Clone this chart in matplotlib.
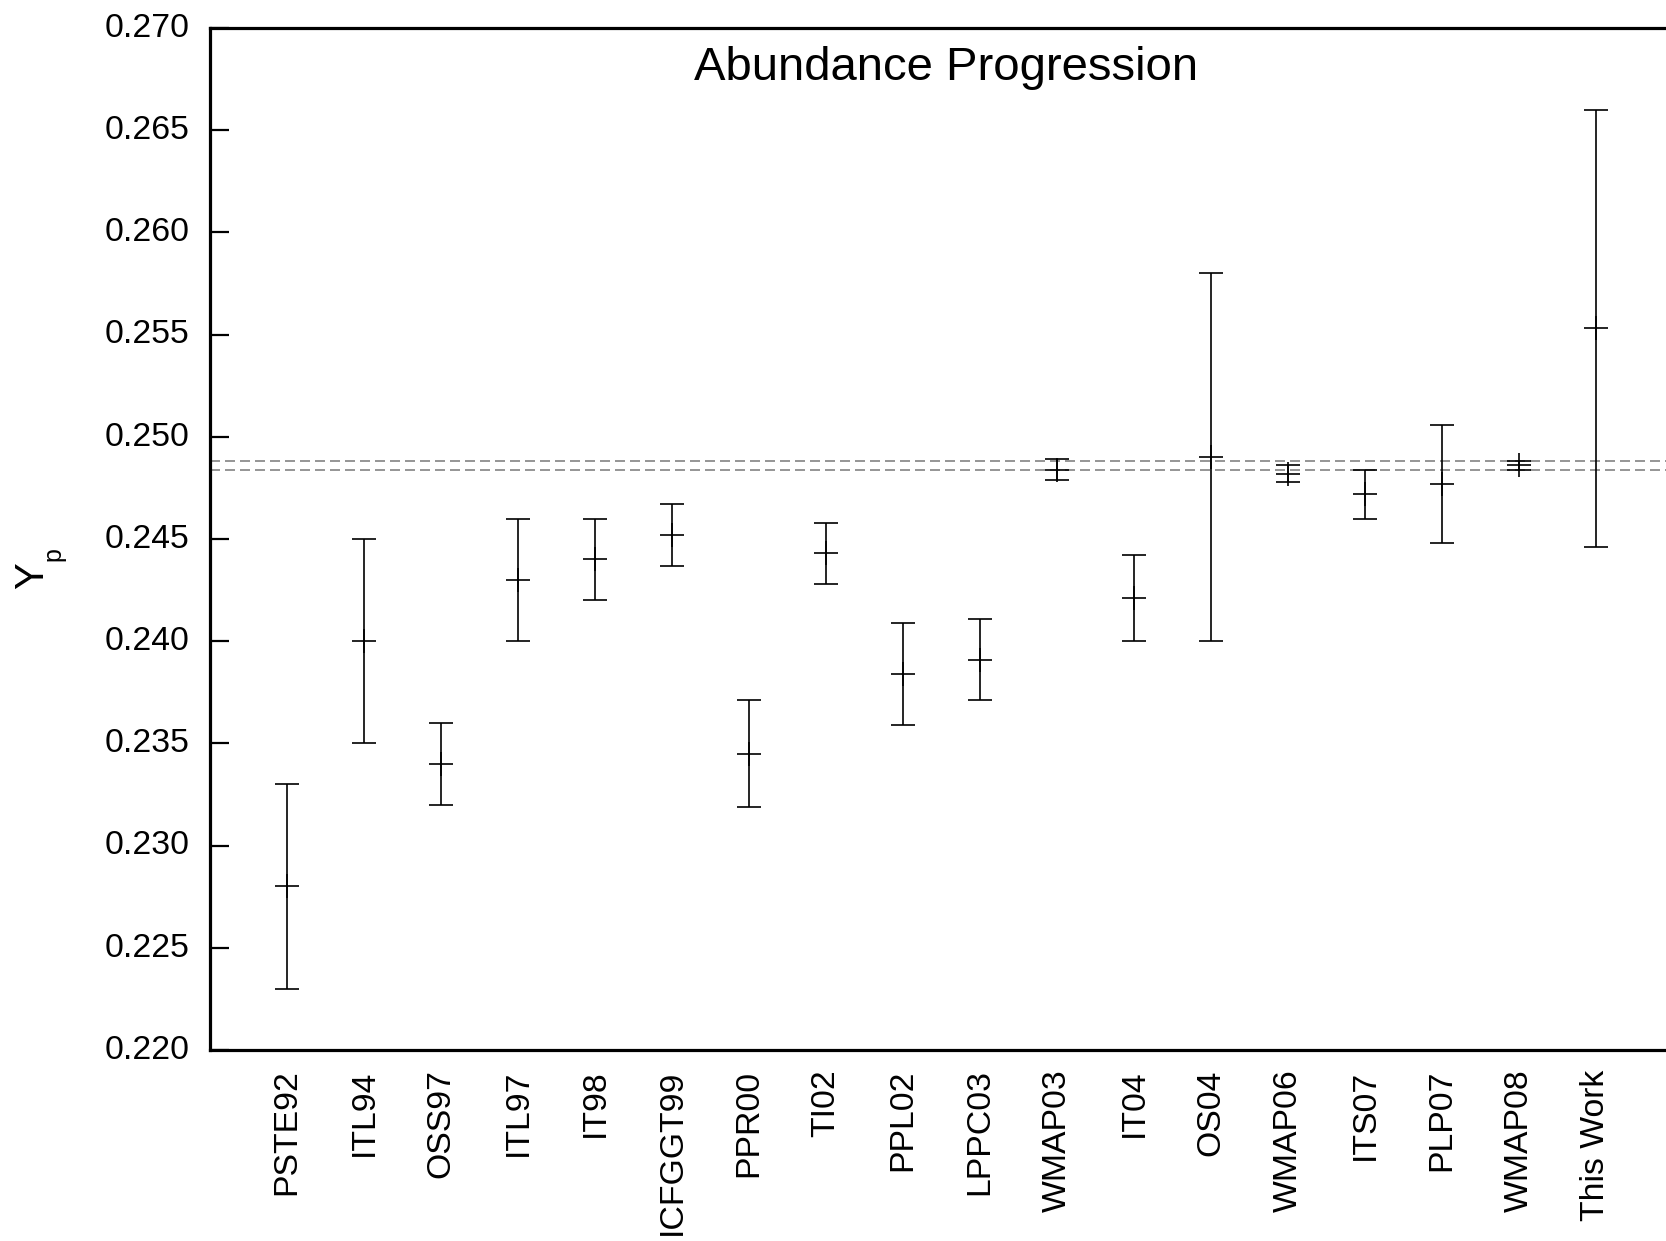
import matplotlib
matplotlib.use("Agg")
import matplotlib.pyplot as plt
from matplotlib.transforms import ScaledTranslation

# ==========================
# DATA
# ==========================

labels = [
    "PSTE92", "ITL94", "OSS97", "ITL97", "IT98", "ICFGGT99",
    "PPR00", "TI02", "PPL02", "LPPC03", "WMAP03", "IT04",
    "OS04", "WMAP06", "ITS07", "PLP07", "WMAP08", "This Work"
]

yp = [
    0.2280, 0.2400, 0.2340, 0.2430, 0.2440, 0.2452,
    0.2345, 0.2443, 0.2384, 0.2391, 0.2484, 0.2421,
    0.2490, 0.2482, 0.2472, 0.2477, 0.2486, 0.2553
]

yp_err = [
    0.0050, 0.0050, 0.0020, 0.0030, 0.0020, 0.0015,
    0.0026, 0.0015, 0.0025, 0.0020, 0.0005, 0.0021,
    0.0090, 0.0004, 0.0012, 0.0029, 0.0002, 0.0107
]

band = [0.2484, 0.2488]

yticks = [0.220, 0.225, 0.230, 0.235, 0.240, 0.245,
          0.250, 0.255, 0.260, 0.265, 0.270]

# ==========================
# FIGURE
# ==========================

plt.rcParams["font.family"] = ["Liberation Sans", "DejaVu Sans"]
plt.rcParams["lines.scale_dashes"] = False

W, H = 1666, 1241
fig = plt.figure(figsize=(W / 100, H / 100), dpi=100)

# axes runs past the right edge of the picture (cut off there)
xmax = 19.5
left, right, top, bottom = 210, 210 + xmax * 77, 28, 1050
ax = fig.add_axes([left / W, 1 - bottom / H, (right - left) / W, (bottom - top) / H])

x = list(range(1, len(labels) + 1))

for y in band:
    ax.axhline(y, color="#8c8c8c", lw=1.3, dashes=(7.2, 3.6), zorder=1)

ax.errorbar(
    x,
    yp,
    yerr=yp_err,
    fmt="+",
    color="black",
    ms=17.3,
    mew=1.2,
    elinewidth=1.2,
    capsize=8.6,
    capthick=1.2,
    zorder=3
)

ax.set_xlim(0, xmax)
ax.set_ylim(0.220, 0.270)

ax.set_yticks(yticks)
ax.set_yticklabels([f"{t:.3f}" for t in yticks], fontsize=24.3)
ax.set_xticks(x)
ax.set_xticklabels(labels, rotation=90, fontsize=24.3, va="top")

ax.tick_params(axis="y", direction="in", length=14, width=1.6, pad=15)
ax.tick_params(axis="x", length=0, pad=14)

# y tick labels sit a touch above their ticks
shift = ScaledTranslation(0, 2.3 / 72, fig.dpi_scale_trans)
for lab in ax.get_yticklabels():
    lab.set_transform(lab.get_transform() + shift)

for side in ["left", "bottom", "top"]:
    ax.spines[side].set_linewidth(2.3)
ax.spines["right"].set_visible(False)

# title and y label
fig.text(946 / W, 1 - 79.5 / H, "Abundance Progression",
         fontsize=34, ha="center", va="baseline")

fig.text(43.3 / W, 1 - 576 / H, "Y", fontsize=29, rotation=90,
         rotation_mode="anchor", ha="center", va="baseline")
fig.text(60 / W, 1 - 554 / H, "p", fontsize=18, rotation=90,
         rotation_mode="anchor", ha="center", va="baseline")

fig.savefig("out.png", dpi=100)
